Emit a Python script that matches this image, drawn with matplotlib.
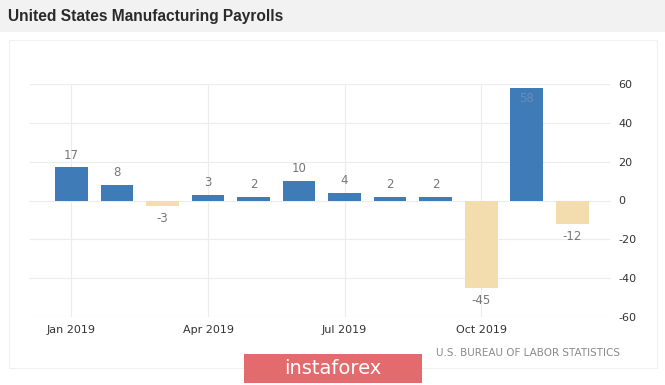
import matplotlib
matplotlib.use("Agg")
import matplotlib.pyplot as plt
from matplotlib.patches import Rectangle

plt.rcParams["axes.unicode_minus"] = False

months = ["Jan", "Feb", "Mar", "Apr", "May", "Jun", "Jul", "Aug", "Sep", "Oct", "Nov", "Dec"]
payrolls = [17, 8, -3, 3, 2, 10, 4, 2, 2, -45, 58, -12]
tick_pos = [0, 3, 6, 9]
tick_labels = ["Jan 2019", "Apr 2019", "Jul 2019", "Oct 2019"]
y_ticks = [60, 40, 20, 0, -20, -40, -60]

blue = "#3f7bb6"
beige = "#f3dcae"

fig = plt.figure(figsize=(6.65, 3.85), dpi=100)
fig.patch.set_facecolor("white")

# grey title bar + faint frame
fig.patches.append(Rectangle((0, 1 - 32/385), 1, 32/385, transform=fig.transFigure,
                             facecolor="#f2f2f2", edgecolor="none", zorder=0))
fig.patches.append(Rectangle((9/665, 1 - 368/385), 648/665, (368 - 40)/385, transform=fig.transFigure,
                             facecolor="none", edgecolor="#f0f0f0", lw=0.8, zorder=0))
fig.text(8/665, 1 - 16/385, "United States Manufacturing Payrolls", fontsize=11.2,
         fontweight="bold", family="Liberation Sans", color="#2a2a2a", va="center")

ax = fig.add_axes([30/665, 1 - 317/385, 580/665, 233/385])
x = list(range(len(months)))
colors = [blue if v >= 0 else beige for v in payrolls]
ax.bar(x, payrolls, width=0.72, color=colors, zorder=2)

for xi, v in zip(x, payrolls):
    if v == max(payrolls):
        ax.text(xi, v - 2, str(v), ha="center", va="top", fontsize=8.5, color="#6a8db5", zorder=3)
    elif v >= 0:
        ax.text(xi, v + 3, str(v), ha="center", va="bottom", fontsize=8.5, color="#777777", zorder=3)
    else:
        ax.text(xi, v - 3, str(v), ha="center", va="top", fontsize=8.5, color="#777777", zorder=3)

ax.set_xlim(-0.91, 11.83)
ax.set_ylim(-60, 60)
ax.set_yticks(y_ticks)
ax.set_xticks(tick_pos)
ax.set_xticklabels(tick_labels)
ax.yaxis.tick_right()
ax.tick_params(axis="y", length=0, pad=6, labelsize=8, labelcolor="#333333")
ax.tick_params(axis="x", length=0, pad=6, labelsize=8, labelcolor="#333333")
ax.grid(True, color="#ececec", lw=0.8, zorder=0)
for s in ax.spines.values():
    s.set_visible(False)

fig.text(620/665, 1 - 353/385, "U.S. BUREAU OF LABOR STATISTICS", fontsize=7.5,
         color="#8a8a8a", ha="right", va="center")

# watermark box
fig.patches.append(Rectangle((244/665, 1 - 383/385), 178/665, 29/385, transform=fig.transFigure,
                             facecolor="#e46b6d", edgecolor="none", zorder=1))
fig.text(333/665, 1 - 369/385, "instaforex", fontsize=14, color="white",
         ha="center", va="center", zorder=2)

fig.savefig("out.png", dpi=100)
